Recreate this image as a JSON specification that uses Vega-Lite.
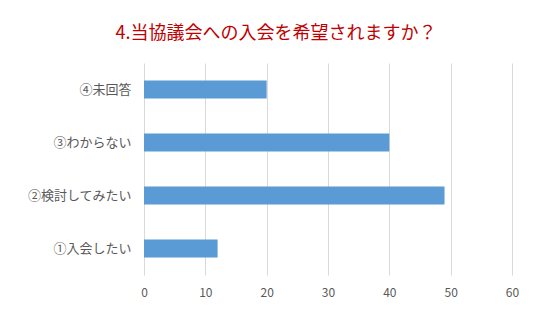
{
  "$schema": "https://vega.github.io/schema/vega-lite/v6.json",
  "width": 368,
  "height": 212,
  "autosize": {"type": "none"},
  "padding": {"left": 144, "top": 63, "right": 38, "bottom": 45},
  "background": "white",
  "title": {
    "text": "4.当協議会への入会を希望されますか？",
    "color": "#C00000",
    "font": "Noto Sans CJK JP",
    "fontSize": 18,
    "fontWeight": "normal",
    "anchor": "middle",
    "dx": -52,
    "offset": 20
  },
  "data": {
    "values": [
      {"category": "④未回答", "value": 20},
      {"category": "③わからない", "value": 40},
      {"category": "②検討してみたい", "value": 49},
      {"category": "①入会したい", "value": 12}
    ]
  },
  "mark": {"type": "bar", "color": "#5B9BD5"},
  "encoding": {
    "y": {
      "field": "category",
      "type": "nominal",
      "sort": ["④未回答", "③わからない", "②検討してみたい", "①入会したい"],
      "scale": {"paddingInner": 0.66, "paddingOuter": 0.33},
      "axis": {
        "title": null,
        "domain": false,
        "ticks": false,
        "labelPadding": 13,
        "labelFont": "Noto Sans CJK JP",
        "labelFontSize": 13,
        "labelColor": "#595959"
      }
    },
    "x": {
      "field": "value",
      "type": "quantitative",
      "scale": {"domain": [0, 60], "nice": false},
      "axis": {
        "title": null,
        "values": [0, 10, 20, 30, 40, 50, 60],
        "domain": false,
        "ticks": false,
        "grid": true,
        "gridColor": "#D9D9D9",
        "gridWidth": 1,
        "labelFlush": false,
        "labelPadding": 12,
        "labelFont": "Noto Sans CJK JP",
        "labelFontSize": 12,
        "labelColor": "#595959"
      }
    }
  },
  "config": {"view": {"stroke": null}}
}
